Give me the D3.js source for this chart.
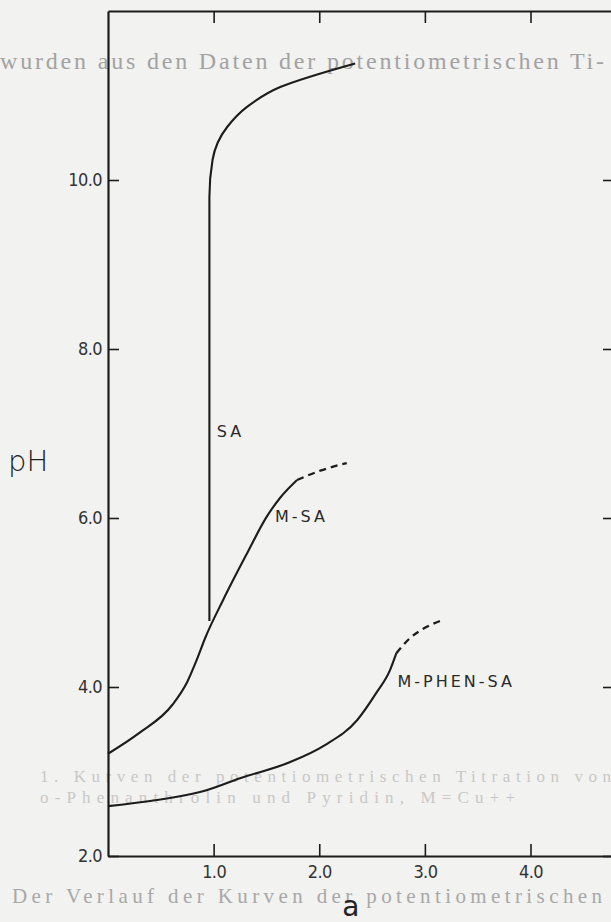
<!DOCTYPE html>
<html>
<head>
<meta charset="utf-8">
<script src="https://cdn.jsdelivr.net/npm/d3@7"></script>
<style>
  html, body { margin: 0; padding: 0; background: #f2f2f0; }
  .tick text { font-family: "Liberation Sans Narrow", "DejaVu Sans Condensed", "Liberation Sans", sans-serif; }
  .ghost { font-family: "Liberation Serif", "DejaVu Serif", serif; }
</style>
</head>
<body>
<div class="svg-container"></div>
<script>
// data: [a, pH]
const xTicks = [1, 2, 3, 4];
const yTicks = [2, 4, 6, 8, 10];
const xDomain = [0, 4.8];
const yDomain = [2, 12];

// shared lower branch + M-SA (solid)
const msaSolid = [[0, 3.21], [0.30, 3.46], [0.61, 3.79], [0.75, 4.06], [0.84, 4.32], [0.92, 4.58],
                  [1.09, 5.03], [1.32, 5.59], [1.50, 6.01], [1.63, 6.24], [1.79, 6.45]];
const msaDash = [[1.79, 6.45], [2.01, 6.56], [2.26, 6.65]];
// SA jumps up at a ~ 1
const saLine = [[0.96, 4.78], [0.96, 9.80], [0.99, 10.24], [1.13, 10.63], [1.31, 10.86], [1.63, 11.10], [2.34, 11.38]];
const phenSolid = [[0, 2.59], [0.40, 2.65], [0.94, 2.78], [1.25, 2.92], [1.72, 3.11], [2.05, 3.31],
                   [2.36, 3.61], [2.54, 3.93], [2.67, 4.20], [2.73, 4.40]];
const phenDash = [[2.73, 4.40], [2.86, 4.58], [3.00, 4.70], [3.16, 4.79]];

const curveLabels = [
    {text: 'SA', a: 1.03, ph: 6.96},
    {text: 'M-SA', a: 1.58, ph: 5.95},
    {text: 'M-PHEN-SA', a: 2.74, ph: 4.0}
];

// text of the page that shows through the scan
const ghostLines = [
    {text: 'wurden aus den Daten der potentiometrischen Ti-', x0: 0, x1: 604, base: 69, size: 24, fill: '#a2a2a2'},
    {text: '1. Kurven der potentiometrischen Titration von', x0: 40, x1: 611, base: 782, size: 17, fill: '#c8c8c6'},
    {text: 'o-Phenanthrolin und Pyridin, M=Cu++', x0: 40, x1: 515, base: 803, size: 17, fill: '#c8c8c6'},
    {text: 'Der Verlauf der Kurven der potentiometrischen', x0: 12, x1: 602, base: 903, size: 21, fill: '#a8a8a8'}
];

var W = 611, H = 922;
var svg = d3.select('.svg-container').append('svg')
    .attr('width', W).attr('height', H)
    .style('display', 'block');

svg.append('rect').attr('width', W).attr('height', H).attr('fill', '#f2f2f0');

svg.selectAll('.ghost').data(ghostLines).enter().append('text')
    .attr('class', 'ghost')
    .attr('x', function (d) { return d.x0; })
    .attr('y', function (d) { return d.base; })
    .attr('textLength', function (d) { return d.x1 - d.x0; })
    .attr('lengthAdjust', 'spacing')
    .style('font-size', function (d) { return d.size + 'px'; })
    .attr('fill', function (d) { return d.fill; })
    .text(function (d) { return d.text; });

var x = d3.scaleLinear().domain(xDomain).range([108, 615]),
    y = d3.scaleLinear().domain(yDomain).range([856, 11]);

var ink = '#1c1c1c';
var fmt = d3.format('.1f');

function styleAxis(g) {
    g.select('.domain').attr('stroke', ink).attr('stroke-width', 2.2);
    g.selectAll('.tick line').attr('stroke', ink).attr('stroke-width', 1.6);
    g.selectAll('.tick text').attr('fill', '#333').style('font-size', '18px').style('letter-spacing', '-0.6px');
}

// bottom
svg.append('g').attr('transform', 'translate(0,' + y(2) + ')')
    .call(d3.axisBottom(x).tickValues(xTicks).tickFormat(fmt).tickSizeInner(-12).tickSizeOuter(0).tickPadding(9))
    .call(styleAxis);
// top
svg.append('g').attr('transform', 'translate(0,' + y(12) + ')')
    .call(d3.axisTop(x).tickValues(xTicks).tickFormat('').tickSizeInner(-12).tickSizeOuter(0))
    .call(styleAxis);
// left
svg.append('g').attr('transform', 'translate(' + x(0) + ',0)')
    .call(d3.axisLeft(y).tickValues(yTicks).tickFormat(fmt).tickSizeInner(-11).tickSizeOuter(0).tickPadding(6))
    .call(styleAxis);
// right
svg.append('g').attr('transform', 'translate(' + x(4.8) + ',0)')
    .call(d3.axisRight(y).tickValues(yTicks).tickFormat('').tickSizeInner(-12).tickSizeOuter(0))
    .call(styleAxis);

// axis titles
svg.append('text').attr('x', 8).attr('y', 471)
    .style('font-family', '"DejaVu Sans", sans-serif').style('font-size', '29px').style('font-weight', '300')
    .attr('fill', '#222').text('pH');
svg.append('text').attr('x', x(2.3)).attr('y', 916).attr('text-anchor', 'middle')
    .style('font-family', '"DejaVu Sans", sans-serif').style('font-size', '28px')
    .attr('fill', '#222').text('a');

// curves
var lineX = d3.line().x(function (d) { return x(d[0]); }).y(function (d) { return y(d[1]); })
    .curve(d3.curveMonotoneX);
var lineY = d3.line().x(function (d) { return x(d[0]); }).y(function (d) { return y(d[1]); })
    .curve(d3.curveMonotoneY);

svg.selectAll('.curve').data([msaSolid, phenSolid]).enter().append('path')
    .attr('class', 'curve')
    .attr('d', lineX)
    .attr('fill', 'none').attr('stroke', ink).attr('stroke-width', 2.1);

svg.append('path').attr('d', lineY(saLine))
    .attr('fill', 'none').attr('stroke', ink).attr('stroke-width', 2.1);

svg.selectAll('.dash').data([msaDash, phenDash]).enter().append('path')
    .attr('class', 'dash')
    .attr('d', lineX)
    .attr('fill', 'none').attr('stroke', ink).attr('stroke-width', 2.3)
    .attr('stroke-dasharray', '7,5');

svg.selectAll('.clabel').data(curveLabels).enter().append('text')
    .attr('class', 'clabel')
    .attr('x', function (d) { return x(d.a); })
    .attr('y', function (d) { return y(d.ph); })
    .style('font-family', '"DejaVu Sans", sans-serif').style('font-size', '16px').style('letter-spacing', '3px')
    .attr('fill', '#2a2a2a')
    .text(function (d) { return d.text; });
</script>
</body>
</html>
